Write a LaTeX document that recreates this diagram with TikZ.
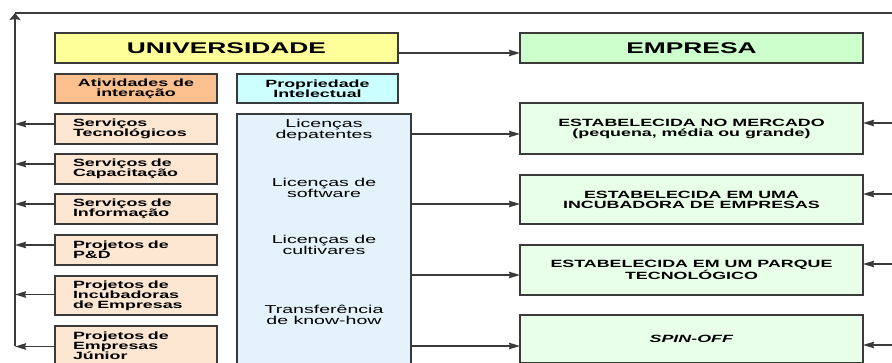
\documentclass[tikz,border=0pt]{standalone}
\usepackage{fontspec}
\setmainfont{Liberation Sans}[FakeStretch=1.7]
\usepackage{tikz}
\usetikzlibrary{arrows.meta,positioning}
\definecolor{UniYellow}{HTML}{FFFF99}
\definecolor{EmpGreen}{HTML}{CCFFCC}
\definecolor{EmpPale}{HTML}{E8FFE8}
\definecolor{AtivOrange}{HTML}{FBC08E}
\definecolor{AtivPeach}{HTML}{FDE6D2}
\definecolor{PropCyan}{HTML}{CCFFFF}
\definecolor{PropBlue}{HTML}{E4F2FC}
\definecolor{LineGray}{HTML}{3A3A3A}
\tikzset{
  box/.style={draw=LineGray, line width=1.1pt, align=center, inner sep=0pt, outer sep=0pt},
  head/.style={box, minimum width=343pt, minimum height=30pt,
               font=\fontsize{15.5}{17}\selectfont\bfseries},
  unibox/.style={head, fill=UniYellow},
  empbox/.style={head, fill=EmpGreen},
  tagbox/.style={box, minimum height=29pt, font=\fontsize{10.5}{10}\selectfont\bfseries},
  ativbox/.style={tagbox, minimum width=162pt, fill=AtivOrange},
  propbox/.style={tagbox, minimum width=161pt, fill=PropCyan},
  servbox/.style={box, fill=AtivPeach, text width=126pt, inner xsep=18pt,
                  align=left, minimum height=30pt,
                  font=\fontsize{10.5}{10}\selectfont\bfseries},
  empsub/.style={box, fill=EmpPale, minimum width=343pt,
                 font=\fontsize{10.5}{10}\selectfont\bfseries},
  ipbox/.style={box, fill=PropBlue, minimum width=174pt, minimum height=250pt},
  iptext/.style={align=center, inner sep=0pt, font=\fontsize{11.5}{10.5}\selectfont},
  flow/.style={-{Stealth[length=11pt,width=6.5pt,inset=1pt]}, line width=1.2pt, draw=LineGray},
  bus/.style={line width=2.4pt, draw=LineGray},
  link/.style={line width=1.2pt, draw=LineGray}
}
\begin{document}
\begin{tikzpicture}[x=1pt, y=-1pt]
  \useasboundingbox (0,0) rectangle (892,363);
  % headers
  \node[unibox] (univ) at (226.5,48) {UNIVERSIDADE};
  \node[empbox, right=122pt of univ] (empresa) {EMPRESA};
  \node[ativbox, below=11pt of univ.south west, anchor=north west] (ativ) {Atividades de\\intera\c{c}\~ao};
  \node[propbox, right=20pt of ativ] (prop) {Propriedade\\Intelectual};
  % atividades de interacao
  \node[servbox, below=11pt of ativ] (serv1) {Servi\c{c}os\\Tecnol\'ogicos};
  \node[servbox, below=10pt of serv1] (serv2) {Servi\c{c}os de\\Capacita\c{c}\~ao};
  \node[servbox, below=10pt of serv2] (serv3) {Servi\c{c}os de\\Informa\c{c}\~ao};
  \node[servbox, below=11pt of serv3] (serv4) {Projetos de\\P\&D};
  \node[servbox, below=11pt of serv4, minimum height=39pt] (serv5) {Projetos de\\Incubadoras\\de Empresas};
  \node[servbox, below=11pt of serv5, minimum height=39pt] (serv6) {Projetos de\\Empresas\\J\'unior};
  % propriedade intelectual
  \node[ipbox, below=11pt of prop.south west, anchor=north west] (licen) {};
  \node[iptext] (licpat) at (324,130) {Licen\c{c}as\\depatentes};
  \node[iptext] (licsoft) at (324,188) {Licen\c{c}as de\\software};
  \node[iptext] (liccult) at (324,245) {Licen\c{c}as de\\cultivares};
  \node[iptext] (knowhow) at (324,315) {Transfer\^encia\\de know-how};
  % empresas
  \node[empsub, below=40pt of empresa, minimum height=51pt] (emp1) {ESTABELECIDA NO MERCADO\\(pequena, m\'edia ou grande)};
  \node[empsub, below=21pt of emp1, minimum height=49pt] (emp2) {ESTABELECIDA EM UMA\\INCUBADORA DE EMPRESAS};
  \node[empsub, below=21pt of emp2, minimum height=50pt] (emp3) {ESTABELECIDA EM UM PARQUE\\TECNOL\'OGICO};
  \node[empsub, below=20pt of emp3, minimum height=48pt] (emp4) {\textit{SPIN-OFF}};
  % buses
  \coordinate (lbus) at (15,13);
  \coordinate (lbot) at (15,346);
  \coordinate (rbus) at (900,13);
  \draw[link] (lbus) -- (rbus);
  \draw[bus, -{Stealth[length=7pt,width=11pt,inset=1pt]}] (lbot) -- (lbus);
  \coordinate (u1) at ([yshift=-5pt]univ.east);
  \draw[flow] (u1) -- (empresa.west |- u1);
  \foreach \n/\s in {serv1/5,serv2/5,serv3/5,serv4/5,serv5/1,serv6/-1} {
    \coordinate (t) at ([yshift=\s pt]\n.west);
    \draw[flow] (t) -- (lbus |- t);
  }
  \foreach \n/\s in {emp1/-5.5,emp2/-4.5,emp3/-5,emp4/-7} {
    \coordinate (t) at ([yshift=\s pt]\n.west);
    \draw[flow] (licen.east |- t) -- (t);
  }
  \foreach \n/\s in {emp1/5.5,emp2/5.5,emp3/6,emp4/-6} {
    \coordinate (t) at ([yshift=\s pt]\n.east);
    \draw[flow] (rbus |- t) -- (t);
  }
\end{tikzpicture}
\end{document}
